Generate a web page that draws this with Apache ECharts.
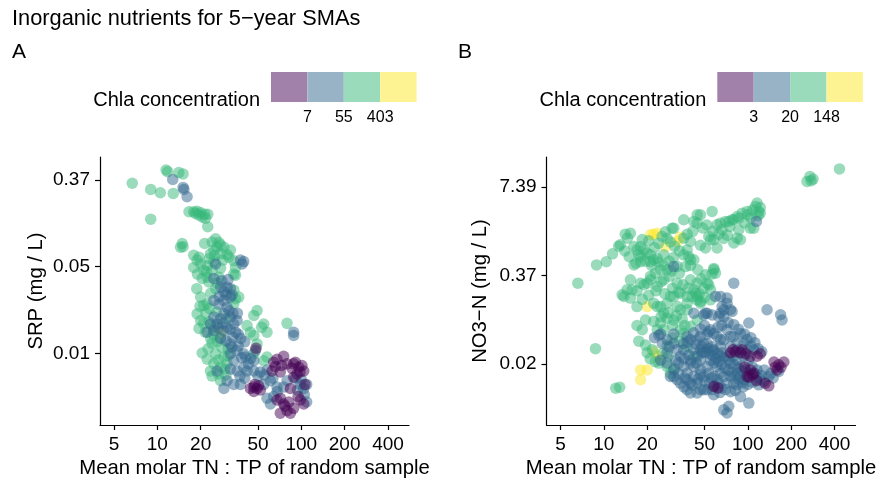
<!DOCTYPE html>
<html>
<head>
<meta charset="utf-8">
<script src="https://cdn.jsdelivr.net/npm/echarts@6/dist/echarts.min.js"></script>
<style>
  html, body { margin: 0; padding: 0; background: #ffffff; }
  #chart { width: 876px; height: 478px; }
</style>
</head>
<body>
<div id="chart"></div>
<script>
// Molar TN:TP ratio (x) against inorganic nutrient concentration (y), points grouped by Chla class.

const ratioTicks = [5, 10, 20, 50, 100, 200, 400];
const srpTicksLn = [-5, -3, -1];
const no3TicksLn = [-4, -1, 2];
const chlaBreaksA = ['7', '55', '403'];
const chlaBreaksB = ['3', '20', '148'];
const chlaColors = ['#440154', '#31688E', '#35B779', '#FDE725'];
const chlaLegendFill = ['#a180a9', '#98b3c6', '#9adbbc', '#fef392'];

// Panel A: [TN:TP, SRP mg/L]
const srpYellow = [[27.5, 0.0110]];
const srpGreen = [
  [6.7, 0.341], [9.0, 0.296], [10.5, 0.274], [12.9, 0.270], [9.0, 0.149], [11.5, 0.463], [11.8, 0.446], [14.1, 0.436], [15.1, 0.423],
  [16.6, 0.177], [17.9, 0.177], [18.9, 0.179], [20.0, 0.173], [21.3, 0.167], [22.4, 0.167], [20.5, 0.157], [19.4, 0.164], [18.4, 0.170], [21.6, 0.152],
  [22.4, 0.125], [14.9, 0.085], [15.1, 0.079], [14.5, 0.078],
  [25.4, 0.095], [24.0, 0.088], [26.8, 0.087], [27.5, 0.082], [21.3, 0.085], [29.0, 0.078], [32.2, 0.073], [24.7, 0.073], [31.4, 0.062], [34.0, 0.057], [23.4, 0.067], [27.5, 0.067], [26.0, 0.079],
  [17.9, 0.065], [18.9, 0.058], [17.9, 0.049], [20.0, 0.053], [21.0, 0.046], [22.2, 0.051], [24.7, 0.056], [27.5, 0.048], [34.0, 0.042], [34.9, 0.041], [26.8, 0.039], [34.9, 0.049],
  [20.5, 0.038], [22.2, 0.039], [22.8, 0.035], [26.0, 0.034], [34.0, 0.029], [36.8, 0.0247], [34.9, 0.0238],
  [18.8, 0.030], [20.0, 0.0247], [21.0, 0.0204], [22.2, 0.0212], [34.0, 0.0212],
  [18.9, 0.0168], [20.0, 0.0144], [24.7, 0.0123], [27.5, 0.0098],
  [23.0, 0.0190], [25.8, 0.0175], [30.0, 0.0150], [21.5, 0.0110], [23.5, 0.0095], [26.0, 0.0088], [31.0, 0.0075], [24.0, 0.0085],
  [19.5, 0.062], [23.0, 0.060], [25.0, 0.064], [28.5, 0.058], [30.5, 0.066], [22.0, 0.044], [24.0, 0.046], [19.0, 0.042],
  [23.5, 0.027], [25.5, 0.030], [19.8, 0.020], [21.8, 0.017], [23.0, 0.014], [19.5, 0.012], [21.0, 0.0135], [24.5, 0.0105],
  [22.5, 0.0075], [20.5, 0.0068], [26.5, 0.0058], [24.0, 0.0040], [26.5, 0.0042], [29.5, 0.0047], [31.0, 0.0064], [30.0, 0.0041],
  [42.0, 0.0128], [44.3, 0.0110], [46.8, 0.0162], [49.3, 0.0181], [54.8, 0.0133], [57.8, 0.0110], [46.8, 0.0102], [53.0, 0.0123],
  [79.6, 0.0135], [49.3, 0.0084], [46.8, 0.0067],
  [22.2, 0.0059], [24.7, 0.0053], [27.5, 0.0049], [23.4, 0.0045], [30.5, 0.0053], [29.0, 0.0062], [25.4, 0.0067], [28.0, 0.0078],
  [27.5, 0.0036], [54.8, 0.0057], [57.8, 0.0062]
];
const srpBlue = [
  [12.8, 0.373], [15.3, 0.296], [16.1, 0.250], [15.1, 0.310],
  [37.8, 0.058], [38.8, 0.053], [39.8, 0.056], [25.4, 0.053],
  [24.7, 0.038], [27.5, 0.031], [30.5, 0.031], [32.2, 0.030], [32.2, 0.0247], [29.0, 0.028],
  [24.7, 0.0229], [29.0, 0.0229], [30.5, 0.0196], [26.8, 0.021],
  [24.7, 0.0156], [27.5, 0.0150], [26.0, 0.0133], [23.4, 0.0133], [22.2, 0.0110], [24.7, 0.0114], [29.0, 0.0114], [30.5, 0.0123], [34.0, 0.0133], [35.8, 0.0144], [32.2, 0.0156], [29.0, 0.0168],
  [36.5, 0.0105], [38.0, 0.0095], [40.5, 0.0088], [33.5, 0.0098],
  [28.0, 0.036], [31.0, 0.037], [33.0, 0.026], [30.0, 0.026], [27.0, 0.025], [31.5, 0.018], [33.5, 0.017], [36.0, 0.017],
  [28.5, 0.0135], [32.0, 0.0118], [35.0, 0.0110], [26.5, 0.0122], [27.5, 0.0095], [30.0, 0.0090], [33.0, 0.0078], [36.5, 0.0080],
  [38.5, 0.0061], [41.0, 0.0062], [44.5, 0.0060], [37.5, 0.0040], [40.5, 0.0038], [50.0, 0.0040], [55.5, 0.0041], [58.0, 0.0046],
  [63.5, 0.0038], [68.0, 0.0028], [94.0, 0.0029], [100, 0.0037], [105, 0.0026],
  [88.5, 0.0110], [88.5, 0.0102], [48.0, 0.0072],
  [26.0, 0.0045], [34.0, 0.0057], [32.2, 0.0067], [35.8, 0.0072], [39.8, 0.0067], [32.2, 0.0084],
  [30.5, 0.0036], [29.0, 0.0030], [34.0, 0.0033], [37.8, 0.0033], [42.0, 0.0045], [46.8, 0.0045], [52.0, 0.0044], [46.8, 0.0057], [43.0, 0.0053], [39.8, 0.0049], [35.8, 0.0045], [32.2, 0.0047],
  [61.0, 0.0036], [54.8, 0.0033], [67.8, 0.0031], [75.4, 0.0031], [79.6, 0.0036], [98.5, 0.0033], [104, 0.0030], [109, 0.0033], [57.8, 0.0024], [61.0, 0.0021], [64.3, 0.0025], [109, 0.0022], [91, 0.0038]
];
const srpPurple = [
  [64.3, 0.0055], [67.8, 0.0059], [75.4, 0.0063], [79.6, 0.0053], [62.6, 0.0045], [71.5, 0.0044], [88.5, 0.0053], [95.9, 0.0049], [101, 0.0051], [104, 0.0045], [93.4, 0.0042], [88.5, 0.0039],
  [44.3, 0.0030], [46.8, 0.0031], [49.3, 0.0030], [46.8, 0.0028], [50.5, 0.0032], [48.5, 0.0076],
  [66.0, 0.0050], [73.0, 0.0051], [86.0, 0.0048], [98.0, 0.0044], [91.0, 0.0055], [77.0, 0.0020], [95.0, 0.0025], [82.0, 0.0022], [47.5, 0.0033], [52.0, 0.0029],
  [71.5, 0.0024], [75.4, 0.0021], [79.6, 0.0018], [71.5, 0.0017], [84.0, 0.0017], [88.5, 0.0019], [104, 0.0021], [98.5, 0.0023], [67.8, 0.0023], [84.0, 0.0030], [106, 0.0033]
];

// Panel B: [TN:TP, NO3-N mg/L]
const no3Yellow = [
  [21.1, 1.47], [22.2, 1.5], [23.5, 1.55], [32.3, 1.17], [26.8, 0.99], [34.0, 1.36], [20.0, 0.129],
  [18.0, 0.0151], [18.0, 0.0108], [20.0, 0.0151], [23.5, 0.024], [22.2, 0.028]
];
const no3Green = [
  [433, 13.7], [270, 10.6], [275, 9.2], [258, 8.96], [284, 9.7],
  [6.6, 0.285], [8.9, 0.53], [10.4, 0.59], [11.5, 0.77], [12.7, 1.0], [14.1, 1.5], [14.6, 1.31], [15.3, 1.55], [16.2, 0.99], [18.0, 0.99],
  [25.4, 1.39], [26.8, 1.63], [30.6, 1.84], [35.9, 2.44], [35.9, 1.31], [44.5, 2.89],
  [20.0, 0.79], [18.0, 0.59], [16.7, 0.56], [21.1, 0.59], [23.5, 0.66], [26.1, 0.745], [35.9, 0.745], [40.0, 0.63], [16.2, 0.53],
  [15.3, 0.32], [14.5, 0.228], [13.4, 0.192], [15.7, 0.228], [17.0, 0.129], [20.0, 0.285], [21.1, 0.32], [23.5, 0.255], [26.1, 0.32], [29.0, 0.182], [32.3, 0.285], [40.0, 0.32], [44.5, 0.162], [37.9, 0.116],
  [116, 4.30], [119, 3.24], [122, 3.06], [113, 3.84], [110, 1.84], [91.4, 3.06], [86.6, 2.58], [79.9, 2.44], [73.8, 2.31], [86.6, 1.74], [89.0, 1.24], [79.9, 1.11], [64.6, 2.18], [61.2, 2.06], [56.5, 3.24], [46.9, 2.89], [44.5, 2.18], [55.1, 1.24], [61.2, 0.94], [50.8, 0.94], [46.9, 1.03], [40.0, 1.17], [42.2, 0.63], [58.1, 0.45], [56.5, 0.39], [44.5, 0.285], [49.4, 0.24], [53.6, 0.27], [43.4, 0.203],
  [8.75, 0.031], [12.1, 0.0081], [12.9, 0.0084], [17.0, 0.068], [18.5, 0.059], [19.5, 0.082], [20.0, 0.027], [21.7, 0.030], [22.8, 0.020], [24.1, 0.019], [27.5, 0.017], [29.0, 0.0135],
  [44.5, 0.082], [40.0, 0.066], [34.0, 0.059], [30.6, 0.082], [26.1, 0.103], [23.5, 0.129], [37.9, 0.145], [46.9, 0.153], [55.1, 0.162], [44.5, 0.182], [35.9, 0.052], [37.9, 0.033], [42.2, 0.024],
  [22.2, 0.078], [24.8, 0.074], [27.5, 0.087], [23.5, 0.059], [26.1, 0.059], [18.0, 0.285], [19.0, 0.27], [22.2, 0.145], [27.5, 0.145], [32.3, 0.129], [34.0, 0.116], [21.1, 0.36], [22.8, 0.40], [24.8, 0.45], [27.5, 0.45],
  [37.9, 0.88], [38.9, 0.70], [36.9, 0.50], [32.3, 0.50], [58.1, 0.47], [59.6, 0.40], [37.9, 0.182], [34.0, 0.203], [30.6, 0.182], [52.2, 0.285], [55.1, 0.228], [42.2, 0.228], [46.9, 0.145], [24.8, 0.129],
  [19.0, 0.88], [22.2, 0.63], [29.8, 1.84], [42.2, 2.31], [53.6, 1.39], [66.3, 1.74], [98.9, 3.24], [70.0, 2.31], [77.8, 2.44], [84.3, 2.73], [104, 1.84], [84.3, 1.31], [58.1, 1.24],
  [21.1, 0.745], [18.0, 0.70], [17.0, 0.88], [13.8, 0.182], [15.3, 0.172],
  [13.0, 1.05], [14.0, 0.85], [15.0, 0.70], [17.5, 0.75], [19.5, 0.60], [21.5, 0.52], [24.0, 0.58], [26.0, 0.52], [28.5, 0.60], [30.5, 0.68],
  [33.5, 0.85], [31.0, 1.00], [29.0, 1.15], [27.5, 1.30], [24.0, 1.10], [22.5, 0.95], [20.5, 1.20], [18.5, 1.25], [38.0, 1.50], [41.5, 1.65],
  [48.5, 1.85], [52.0, 2.05], [57.0, 1.65], [63.0, 1.50], [68.0, 1.30], [72.0, 1.45], [75.0, 1.95], [95.0, 2.20], [105, 2.60], [122, 3.70],
  [118, 2.80], [100, 2.90], [108, 3.40], [28.5, 0.36], [25.0, 0.30], [23.0, 0.22], [20.5, 0.19], [18.5, 0.165], [17.0, 0.22], [30.0, 0.24],
  [33.0, 0.21], [35.5, 0.27], [38.5, 0.24], [41.0, 0.18], [46.0, 0.20], [50.0, 0.175], [47.5, 0.33], [51.0, 0.38], [45.0, 0.45], [40.0, 0.52],
  [33.5, 0.40], [29.5, 0.43], [26.5, 0.20], [28.0, 0.105], [25.0, 0.092], [30.0, 0.068], [32.0, 0.095], [35.0, 0.085], [36.5, 0.068], [30.0, 0.045],
  [33.5, 0.040], [27.5, 0.034], [25.5, 0.026], [21.0, 0.022], [19.5, 0.035], [17.5, 0.040], [28.0, 0.024], [31.0, 0.0158]
];
const no3Blue = [
  [114.8, 2.31], [30.6, 0.50], [79.9, 0.285], [64.6, 0.182], [59.6, 0.182], [71.8, 0.172], [66.3, 0.129], [71.8, 0.145], [64.6, 0.103], [68.1, 0.092], [77.8, 0.109], [50.8, 0.103], [42.2, 0.103],
  [136, 0.116], [169, 0.098], [173, 0.082], [101.6, 0.074], [89.0, 0.052], [79.9, 0.047], [68.1, 0.116], [75.8, 0.116], [62.9, 0.092], [56.5, 0.097], [53.6, 0.055], [49.4, 0.097],
  [24.1, 0.049], [27.5, 0.042], [24.8, 0.051], [30.6, 0.051], [35.9, 0.037], [42.2, 0.030], [49.4, 0.037], [52.2, 0.103], [52.2, 0.051],
  [46.9, 0.0151], [52.2, 0.017], [35.9, 0.017], [40.0, 0.021], [32.3, 0.0108], [30.6, 0.0121], [37.9, 0.0077], [44.5, 0.0069], [49.4, 0.0077], [40.0, 0.0096],
  [89.0, 0.0061], [101.6, 0.0049], [73.8, 0.0044], [68.1, 0.0039], [71.8, 0.0035], [56.5, 0.0077], [46.9, 0.0077], [40.0, 0.0069],
  [64.6, 0.0135], [75.8, 0.0121], [84.3, 0.0091], [89.0, 0.017], [75.8, 0.019], [64.6, 0.024], [58.1, 0.030], [52.2, 0.037], [46.9, 0.030], [42.2, 0.017], [37.9, 0.0135], [64.6, 0.042], [71.8, 0.059], [84.3, 0.037], [98.9, 0.042],
  [140, 0.0121], [122, 0.0108], [96.3, 0.0151], [55.1, 0.059], [61.2, 0.047], [68.1, 0.042], [75.8, 0.047], [93.8, 0.037], [98.9, 0.030], [110, 0.030],
  [29.0, 0.0121], [34.0, 0.024], [37.9, 0.0108], [44.5, 0.0096], [52.2, 0.0077], [61.2, 0.0108], [68.1, 0.0121], [79.9, 0.0096], [89.0, 0.0121], [119, 0.0091], [129, 0.0102], [164, 0.0143],
  [27.5, 0.019], [30.6, 0.0151], [40.0, 0.019], [44.5, 0.024], [49.4, 0.027], [24.8, 0.021], [32.3, 0.030], [37.9, 0.047], [44.5, 0.042], [58.1, 0.019], [71.8, 0.024], [79.9, 0.024],
  [58.1, 0.0121], [71.8, 0.0096], [49.4, 0.0121], [42.2, 0.0121], [34.0, 0.0096], [27.5, 0.027], [30.6, 0.037], [116, 0.0151],
  [55.1, 0.021], [61.2, 0.017], [66.3, 0.027], [84.3, 0.021], [89.0, 0.027], [101.6, 0.021], [107, 0.017], [53.6, 0.0135], [46.9, 0.021], [35.9, 0.030], [40.0, 0.042], [46.9, 0.047],
  [56.5, 0.033], [64.6, 0.033], [75.8, 0.033], [84.3, 0.030], [93.8, 0.024], [62.9, 0.0096], [84.3, 0.0135], [95, 0.0108], [130, 0.0151], [145, 0.0135], [150, 0.0115],
  [33.0, 0.0135], [36.5, 0.0115], [28.5, 0.033], [31.5, 0.021], [25.5, 0.037], [22.5, 0.045],
  [43.5, 0.036], [48.0, 0.033], [51.0, 0.028], [54.5, 0.026], [57.5, 0.024], [60.0, 0.022], [63.0, 0.020], [66.0, 0.018], [69.5, 0.016], [73.0, 0.015],
  [77.0, 0.014], [81.0, 0.0125], [86.5, 0.011], [92.0, 0.0098], [45.0, 0.011], [50.0, 0.0105], [54.0, 0.0095], [59.0, 0.0088], [65.0, 0.0082], [70.0, 0.0078],
  [76.0, 0.0072], [82.0, 0.0075], [93.0, 0.0085], [100, 0.0092], [108, 0.010], [115, 0.0118], [125, 0.0125], [112, 0.0135], [100, 0.0135], [92.0, 0.0145],
  [86.0, 0.016], [80.0, 0.018], [74.0, 0.021], [68.0, 0.023], [62.0, 0.026], [57.0, 0.029], [53.0, 0.031], [48.0, 0.027], [44.0, 0.019], [39.0, 0.025],
  [36.0, 0.022], [33.0, 0.019], [38.0, 0.039], [42.0, 0.053], [47.0, 0.060], [50.0, 0.068], [58.0, 0.052], [62.0, 0.064], [66.0, 0.068], [73.0, 0.075],
  [80.0, 0.070], [86.0, 0.060], [95.0, 0.051], [105, 0.045], [112, 0.038], [118, 0.031], [125, 0.028], [105, 0.034], [47.0, 0.0130], [56.0, 0.0115],
  [41.0, 0.0090], [36.0, 0.0085], [58.0, 0.0065], [64.0, 0.0070]
];
const no3Purple = [
  [75.8, 0.027], [82.0, 0.028], [91.4, 0.030], [104, 0.0151], [110, 0.0135], [98.9, 0.0121], [122, 0.026], [152, 0.0197],
  [164, 0.018], [178, 0.0197], [160, 0.0151], [132, 0.0096], [58.1, 0.0086], [104, 0.024], [116, 0.024], [89.0, 0.027],
  [95.0, 0.0165], [102, 0.0118], [115, 0.0105], [108, 0.0128], [170, 0.0165], [155, 0.0165], [140, 0.0088], [62.0, 0.0082], [79.0, 0.030], [97.0, 0.026]
];

const FONT = '"Liberation Sans", Arial, Helvetica, sans-serif';
const toLogSpace = pts => pts.map(p => [Math.log10(p[0]), Math.log(p[1])]);

function scatter(idx, data, color) {
  return {
    type: 'scatter', xAxisIndex: idx, yAxisIndex: idx,
    data: toLogSpace(data), symbolSize: 11.5,
    itemStyle: { color: color, opacity: 0.5 },
    emphasis: { disabled: true }, animation: false
  };
}

function xAxisFor(idx) {
  const tickVals = ratioTicks.map(v => Math.log10(v));
  return {
    type: 'value', gridIndex: idx, min: 0.602, max: 2.748,
    name: 'Mean molar TN : TP of random sample', nameLocation: 'middle', nameGap: 31,
    nameTextStyle: { fontFamily: FONT, fontSize: 20.3, color: '#000' },
    axisLine: { onZero: false, lineStyle: { color: '#000', width: 1.2 } },
    axisTick: { customValues: tickVals, length: 5, lineStyle: { color: '#000', width: 1.2 } },
    axisLabel: { customValues: tickVals, margin: 10, fontFamily: FONT, fontSize: 19, color: '#000',
      formatter: v => String(Math.round(Math.pow(10, v))) },
    splitLine: { show: false }
  };
}

function yAxisFor(idx, min, max, ticks, name, gap) {
  return {
    type: 'value', gridIndex: idx, min: min, max: max,
    name: name, nameLocation: 'middle', nameGap: gap,
    nameTextStyle: { fontFamily: FONT, fontSize: 20.3, color: '#000' },
    axisLine: { onZero: false, lineStyle: { color: '#000', width: 1.2 } },
    axisTick: { customValues: ticks, length: 5, lineStyle: { color: '#000', width: 1.2 } },
    axisLabel: { customValues: ticks, margin: 10, fontFamily: FONT, fontSize: 19, color: '#000',
      formatter: v => Math.exp(v).toFixed(2) },
    splitLine: { show: false }
  };
}

function legendGraphics(x0, breaks) {
  const w = 36.4, top = 72, h = 30;
  const els = [{
    type: 'text', right: 876 - (x0 - 11), top: 90,
    style: { text: 'Chla concentration', font: '20px ' + FONT, fill: '#000' }
  }];
  chlaLegendFill.forEach((c, i) => {
    els.push({ type: 'rect', shape: { x: x0 + i * w, y: top, width: w, height: h }, style: { fill: c } });
  });
  breaks.forEach((b, i) => {
    els.push({ type: 'text', x: x0 + (i + 1) * w, y: 118,
      style: { text: b, font: '16px ' + FONT, fill: '#000', textAlign: 'center', textVerticalAlign: 'middle' } });
  });
  return els;
}

const chart = echarts.init(document.getElementById('chart'), null, { renderer: 'canvas' });
chart.setOption({
  backgroundColor: '#ffffff',
  animation: false,
  title: [
    { text: 'Inorganic nutrients for 5\u2212year SMAs', left: 12, top: 8, padding: 0,
      textStyle: { fontFamily: FONT, fontSize: 21.8, fontWeight: 'normal', color: '#000' } },
    { text: 'A', left: 12, top: 42, padding: 0,
      textStyle: { fontFamily: FONT, fontSize: 21, fontWeight: 'normal', color: '#000' } },
    { text: 'B', left: 458, top: 42, padding: 0,
      textStyle: { fontFamily: FONT, fontSize: 21, fontWeight: 'normal', color: '#000' } }
  ],
  grid: [
    { left: 100, top: 157, width: 309, height: 268, outerBoundsMode: 'none', containLabel: false },
    { left: 546.5, top: 157, width: 309, height: 268, outerBoundsMode: 'none', containLabel: false }
  ],
  xAxis: [xAxisFor(0), xAxisFor(1)],
  yAxis: [
    yAxisFor(0, -6.65, -0.47, srpTicksLn, 'SRP (mg / L)', 54),
    yAxisFor(1, -6.06, 3.02, no3TicksLn, 'NO3\u2212N (mg / L)', 56)
  ],
  series: [
    scatter(0, srpYellow, chlaColors[3]),
    scatter(0, srpGreen, chlaColors[2]),
    scatter(0, srpBlue, chlaColors[1]),
    scatter(0, srpPurple, chlaColors[0]),
    scatter(1, no3Yellow, chlaColors[3]),
    scatter(1, no3Green, chlaColors[2]),
    scatter(1, no3Blue, chlaColors[1]),
    scatter(1, no3Purple, chlaColors[0])
  ],
  graphic: legendGraphics(271, chlaBreaksA).concat(legendGraphics(717.3, chlaBreaksB))
});
</script>
</body>
</html>
